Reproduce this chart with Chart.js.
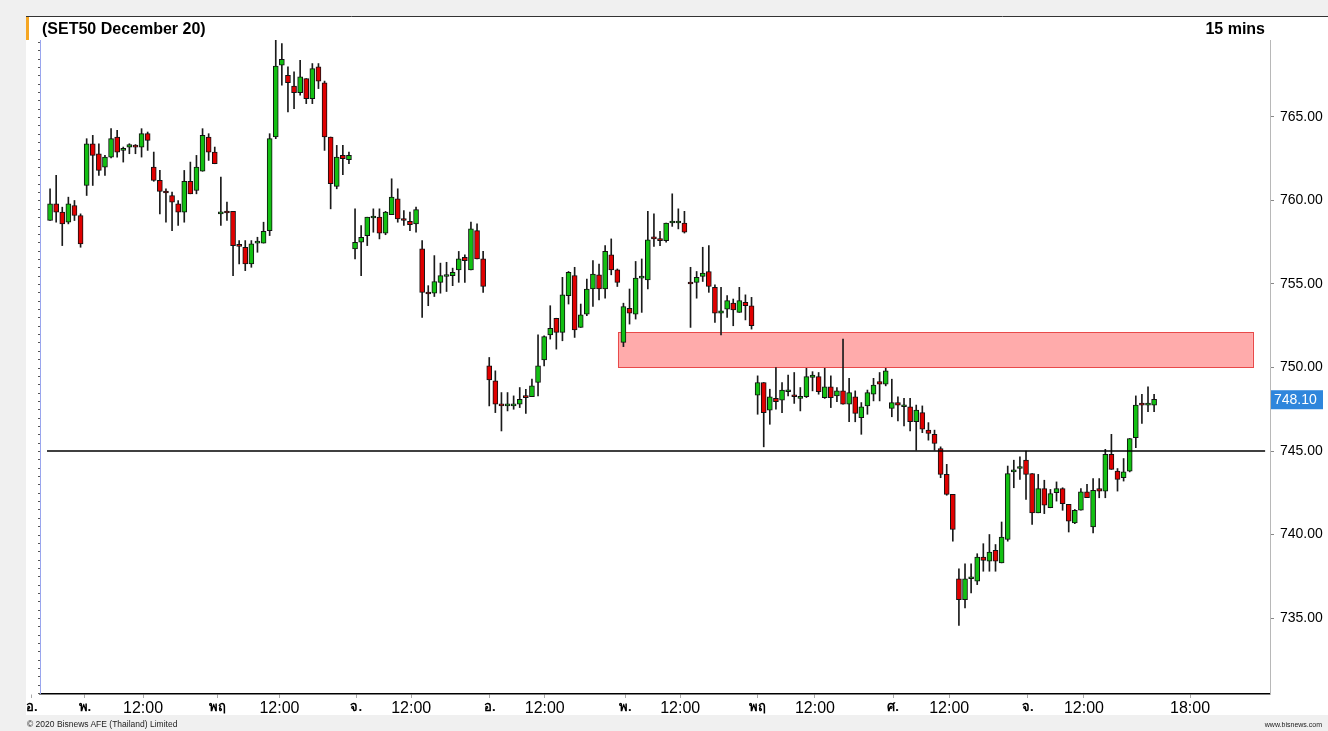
<!DOCTYPE html>
<html>
<head>
<meta charset="utf-8">
<title>SET50 December 20</title>
<script src="https://cdn.jsdelivr.net/npm/chart.js@4"></script>
<style>
  body { margin: 0; background: #f0f0f0; }
  #wrap { position: relative; width: 1328px; height: 731px; }
  .txt { position: absolute; font-family: 'Liberation Sans', Arial, sans-serif; color: #000; white-space: nowrap; }
  #title { left: 42px; top: 20px; font-size: 16px; font-weight: bold; line-height: 18px; }
  #period { right: 63px; top: 20px; font-size: 16px; font-weight: bold; line-height: 18px; }
  #copy { left: 27px; top: 718px; font-size: 8.5px; line-height: 12px; color: #222; }
  #site { right: 6px; top: 719px; font-size: 7px; line-height: 12px; color: #222; }
</style>
</head>
<body>
<div id="wrap">
  <canvas id="myChart"></canvas>
  <div class="txt" id="title">(SET50 December 20)</div>
  <div class="txt" id="period">15 mins</div>
  <div class="txt" id="copy">© 2020 Bisnews AFE (Thailand) Limited</div>
  <div class="txt" id="site">www.bisnews.com</div>
</div>
<script>
// 15 min candles (oldest first)
let opens = [
  758.8, 759.8, 759.3, 758.7, 759.7, 759.1, 760.9, 763.4, 762.8, 762.0,
  762.6, 763.8, 763.0, 763.2, 763.3, 763.2, 764.0, 762.0, 761.2, 760.5,
  760.3, 759.8, 759.3, 761.15, 760.6, 761.75, 763.8, 762.9, 759.2, 759.3,
  759.35, 757.3, 757.2, 756.2, 757.45, 757.45, 758.2, 763.8, 768.1, 767.5,
  766.85, 766.45, 767.3, 766.1, 768.0, 767.05, 763.8, 760.85, 762.7, 762.45,
  757.1, 757.5, 757.9, 758.95, 759.0, 758.05, 759.15, 760.1, 758.85, 758.75,
  758.6, 757.1, 754.45, 754.45, 755.1, 755.45, 755.5, 755.85, 756.6, 755.85,
  758.2, 756.5, 750.1, 749.2, 747.75, 747.7, 747.7, 747.8, 748.25, 748.25,
  749.1, 750.45, 751.95, 752.95, 752.1, 754.3, 755.5, 752.4, 753.2, 754.7,
  755.55, 754.7, 756.75, 755.85, 751.5, 753.55, 753.2, 755.35, 755.25, 757.8,
  757.65, 757.6, 758.65, 758.65, 758.65, 755.05, 755.1, 755.45, 755.75, 754.8,
  753.25, 753.5, 753.85, 753.3, 753.9, 753.7, 748.35, 749.1, 747.45, 748.15,
  748.05, 748.55, 748.35, 748.15, 748.25, 749.4, 749.45, 748.2, 748.85, 748.3,
  748.6, 747.8, 748.25, 747.0, 747.7, 748.4, 749.15, 749.0, 747.55, 747.9,
  747.65, 747.65, 746.75, 747.3, 746.25, 746.0, 745.15, 743.6, 742.4, 737.35,
  736.1, 737.35, 737.2, 738.65, 738.4, 739.05, 738.3, 739.7, 743.75, 743.95,
  744.45, 743.65, 741.3, 742.75, 741.6, 742.5, 742.75, 741.8, 740.7, 741.45,
  742.55, 740.45, 742.75, 742.6, 744.8, 743.8, 743.4, 743.8, 745.8, 747.85,
  747.75, 747.75
];
let highs = [
  760.7, 761.5, 759.6, 760.2, 760.0, 759.2, 763.7, 763.9, 763.4, 762.7,
  764.3, 764.2, 763.2, 763.4, 763.35, 764.3, 764.1, 762.9, 761.8, 760.7,
  760.5, 760.0, 761.8, 762.3, 762.7, 764.3, 764.0, 763.2, 761.4, 759.9,
  759.35, 757.6, 757.6, 757.6, 757.8, 758.7, 764.0, 769.6, 769.4, 768.0,
  767.7, 768.4, 767.3, 768.2, 768.2, 767.15, 763.8, 763.3, 763.3, 762.9,
  759.5, 758.5, 759.0, 759.5, 759.5, 759.35, 761.3, 760.7, 759.4, 759.3,
  759.6, 757.6, 754.9, 756.7, 756.25, 756.3, 755.95, 756.95, 756.75, 758.7,
  758.6, 756.95, 750.6, 749.8, 748.5, 748.5, 748.3, 748.8, 748.7, 749.3,
  751.95, 751.9, 753.7, 752.95, 755.4, 755.75, 756.0, 753.8, 755.3, 756.4,
  756.2, 757.3, 757.7, 755.9, 753.85, 754.7, 756.35, 756.5, 759.35, 759.2,
  758.15, 758.65, 760.4, 759.5, 759.35, 756.0, 755.75, 757.2, 757.3, 754.95,
  754.8, 754.3, 754.1, 754.8, 754.35, 754.2, 749.5, 749.1, 748.7, 750.0,
  749.1, 749.55, 749.7, 748.8, 749.95, 749.75, 749.7, 749.95, 749.5, 748.8,
  751.7, 749.35, 748.6, 747.9, 748.65, 749.35, 749.7, 749.95, 749.3, 748.25,
  748.15, 748.15, 747.75, 747.7, 746.7, 746.25, 745.25, 744.2, 742.4, 737.95,
  738.25, 738.25, 738.85, 739.45, 740.0, 739.4, 740.75, 744.1, 744.45, 744.65,
  745.0, 743.65, 743.6, 743.25, 742.7, 743.15, 742.8, 741.8, 741.5, 742.75,
  743.0, 743.35, 743.35, 745.1, 746.0, 743.95, 744.55, 745.75, 748.3, 748.4,
  748.85, 748.4
];
let lows = [
  758.8, 758.7, 757.3, 758.6, 758.8, 757.2, 760.3, 760.9, 761.5, 761.5,
  762.55, 762.6, 762.3, 762.8, 762.8, 762.6, 763.0, 761.15, 759.2, 758.7,
  758.2, 758.5, 758.7, 760.4, 760.4, 761.75, 762.4, 762.2, 758.5, 758.8,
  755.5, 756.2, 755.8, 756.0, 756.9, 757.45, 757.9, 763.7, 766.9, 765.3,
  765.5, 766.3, 765.8, 765.8, 766.7, 763.0, 759.5, 760.7, 761.55, 762.2,
  756.5, 755.5, 757.3, 758.1, 757.7, 757.95, 759.15, 758.7, 758.5, 758.2,
  758.1, 753.0, 753.7, 754.25, 754.45, 754.55, 754.9, 755.1, 755.1, 755.85,
  756.5, 754.5, 747.7, 747.3, 746.2, 747.4, 747.5, 747.6, 747.25, 748.25,
  748.3, 750.1, 751.7, 751.1, 751.6, 753.8, 751.8, 752.4, 753.1, 753.65,
  754.05, 754.15, 755.55, 754.85, 751.25, 752.6, 752.9, 753.3, 754.7, 757.25,
  757.3, 757.5, 758.45, 758.3, 758.05, 752.4, 754.15, 755.15, 754.5, 752.7,
  751.95, 753.0, 752.5, 753.3, 752.85, 752.3, 747.2, 745.25, 746.6, 747.5,
  747.3, 748.3, 747.85, 747.4, 748.2, 748.6, 748.4, 748.15, 747.6, 747.95,
  747.8, 746.75, 746.75, 746.0, 747.2, 748.0, 748.0, 748.9, 747.05, 746.8,
  746.5, 746.2, 745.05, 746.1, 745.65, 745.05, 743.4, 742.35, 739.6, 734.55,
  735.6, 736.5, 737.0, 737.8, 737.8, 737.8, 738.3, 739.6, 742.8, 743.3,
  742.1, 740.6, 741.3, 741.25, 741.6, 742.0, 741.45, 740.15, 740.65, 741.45,
  742.2, 740.1, 742.2, 742.2, 743.9, 742.6, 743.2, 743.75, 745.2, 746.65,
  747.35, 747.35
];
let closes = [
  759.8, 759.3, 758.6, 759.8, 759.1, 757.4, 763.4, 762.7, 761.8, 762.6,
  763.7, 762.9, 763.0, 763.35, 763.2, 764.0, 763.6, 761.2, 760.55, 760.45,
  759.9, 759.3, 761.15, 760.4, 762.0, 763.9, 762.9, 762.2, 759.3, 759.25,
  757.3, 757.25, 756.2, 757.4, 757.5, 758.15, 763.7, 768.05, 768.45, 767.05,
  766.45, 767.4, 766.1, 767.9, 767.15, 763.8, 761.0, 762.6, 762.5, 762.7,
  757.5, 757.8, 759.0, 758.96, 758.05, 759.3, 760.2, 758.9, 758.8, 758.55,
  759.45, 754.5, 754.4, 755.15, 755.5, 755.45, 755.7, 756.5, 756.4, 758.3,
  756.5, 754.85, 749.25, 747.8, 747.7, 747.75, 747.7, 748.1, 748.2, 748.9,
  750.1, 751.85, 752.35, 752.1, 754.35, 755.7, 752.25, 753.15, 754.7, 755.6,
  754.7, 756.95, 755.85, 755.1, 753.65, 753.25, 755.35, 755.4, 757.65, 757.7,
  757.6, 758.65, 758.7, 758.7, 758.1, 755.0, 755.4, 755.65, 754.85, 753.25,
  753.4, 754.0, 753.45, 754.0, 753.7, 752.5, 749.1, 747.3, 748.25, 747.95,
  748.65, 748.6, 748.25, 748.25, 749.45, 749.55, 748.55, 748.85, 748.2, 748.6,
  747.8, 748.5, 747.25, 747.65, 748.5, 748.95, 749.0, 749.8, 747.9, 747.75,
  747.65, 746.75, 747.45, 746.3, 746.05, 745.45, 743.6, 742.4, 740.3, 736.1,
  737.35, 737.35, 738.65, 738.45, 738.95, 738.4, 739.85, 743.65, 743.75, 743.95,
  743.6, 741.3, 742.75, 741.75, 742.45, 742.75, 741.85, 740.8, 741.45, 742.55,
  742.2, 742.65, 742.6, 744.8, 743.9, 743.3, 743.75, 745.75, 747.75, 747.75,
  747.75, 748.1
];

// x axis labels (position counted in candles from the first one)
let tickPos = [-3.0, 5.7, 15.25, 27.4, 37.6, 50.2, 59.2, 72.1, 81.1, 94.3, 103.3, 115.9, 125.4, 138.2, 147.4, 160.3, 169.5, 186.9];
let tickText = ['อ.', 'พ.', '12:00', 'พฤ', '12:00', 'จ.', '12:00', 'อ.', '12:00', 'พ.', '12:00', 'พฤ', '12:00', 'ศ.', '12:00', 'จ.', '12:00', '18:00'];
let priceTicks = [735, 740, 745, 750, 755, 760, 765];

// support line and resistance zone
let supportLevel = 745;
let supportFrom = -0.5;
let supportTo = 199.2;
let zoneLow = 750;
let zoneHigh = 752.1;
let zoneFrom = 93.1;
let zoneTo = 197.2;

let wickData = [];
let bodyData = [];
let bodyColors = [];
for (let i = 0; i < opens.length; i++) {
  wickData.push({ x: i, y: [lows[i], highs[i]] });
  bodyData.push({ x: i, y: [opens[i], closes[i]] });
  bodyColors.push(closes[i] >= opens[i] ? '#13c013' : '#e00000');
}

const framePlugin = {
  id: 'frame',
  beforeDraw(chart) {
    let ctx = chart.ctx;
    ctx.save();
    ctx.fillStyle = '#f0f0f0';
    ctx.fillRect(0, 0, chart.width, chart.height);
    ctx.fillStyle = '#ffffff';
    ctx.fillRect(26, 16, chart.width - 26, 699);
    ctx.strokeStyle = '#333';
    ctx.lineWidth = 1;
    ctx.beginPath();
    ctx.moveTo(26, 16.5);
    ctx.lineTo(chart.width, 16.5);
    ctx.stroke();
    ctx.fillStyle = '#f5a623';
    ctx.fillRect(26, 17, 3, 23);
    ctx.restore();
  },
  beforeDatasetsDraw(chart) {
    // resistance zone behind the candles
    let ctx = chart.ctx;
    let xs = chart.scales.x;
    let ys = chart.scales.y;
    let x1 = xs.getPixelForValue(zoneFrom);
    let x2 = xs.getPixelForValue(zoneTo);
    let y1 = ys.getPixelForValue(zoneHigh);
    let y2 = ys.getPixelForValue(zoneLow);
    ctx.save();
    ctx.fillStyle = '#ffabab';
    ctx.fillRect(x1, y1, x2 - x1, y2 - y1);
    ctx.strokeStyle = '#e84a4a';
    ctx.lineWidth = 1;
    ctx.strokeRect(Math.round(x1) + 0.5, Math.round(y1) + 0.5, Math.round(x2 - x1), Math.round(y2 - y1));
    ctx.restore();
  },
  afterDraw(chart) {
    let ctx = chart.ctx;
    let area = chart.chartArea;
    let ys = chart.scales.y;
    ctx.save();
    // blue left rule with small half point marks
    ctx.strokeStyle = '#9aa6ee';
    ctx.lineWidth = 1;
    ctx.beginPath();
    ctx.moveTo(area.left + 0.5, area.top);
    ctx.lineTo(area.left + 0.5, area.bottom);
    ctx.stroke();
    ctx.strokeStyle = '#555';
    ctx.beginPath();
    for (let p = Math.ceil(ys.min * 2) / 2; p <= ys.max; p += 0.5) {
      let y = Math.round(ys.getPixelForValue(p)) + 0.5;
      ctx.moveTo(area.left - 2, y);
      ctx.lineTo(area.left, y);
    }
    ctx.stroke();
    // last price box on the price axis
    let last = closes[closes.length - 1];
    let y = ys.getPixelForValue(last);
    ctx.fillStyle = '#2f86dc';
    ctx.fillRect(area.right + 1, y - 9, 52, 19);
    ctx.fillStyle = '#ffffff';
    ctx.font = '14px "Liberation Sans", Arial, sans-serif';
    ctx.textBaseline = 'middle';
    ctx.fillText(last.toFixed(2), area.right + 4, y + 1);
    ctx.restore();
  }
};

let canvasChart = document.getElementById('myChart');
let chart = new Chart(canvasChart, {
  data: {
    datasets: [
      {
        type: 'line',
        data: [{ x: supportFrom, y: supportLevel }, { x: supportTo, y: supportLevel }],
        borderColor: '#000',
        borderWidth: 1.5,
        pointRadius: 0,
        order: 0
      },
      {
        type: 'bar',
        data: bodyData,
        backgroundColor: bodyColors,
        borderColor: '#111',
        borderWidth: 1,
        borderSkipped: false,
        barThickness: 5,
        minBarLength: 2,
        grouped: false,
        order: 1
      },
      {
        type: 'bar',
        data: wickData,
        backgroundColor: '#1a1a1a',
        barThickness: 1,
        grouped: false,
        order: 2
      }
    ]
  },
  options: {
    responsive: true,
    maintainAspectRatio: false,
    animation: false,
    layout: { padding: { left: 40, top: 40, right: 0, bottom: 0 } },
    plugins: { legend: { display: false }, tooltip: { enabled: false } },
    scales: {
      x: {
        type: 'linear',
        offset: false,
        min: -1.65,
        max: 200,
        afterBuildTicks: (scale) => {
          scale.ticks = tickPos.map(v => ({ value: v }));
        },
        afterFit: (scale) => { scale.height = 37; },
        ticks: {
          autoSkip: false,
          maxRotation: 0,
          padding: 1,
          color: '#000',
          callback: (value, index) => tickText[index],
          font: (ctx) => {
            let t = tickText[ctx.index] || '';
            if (t.indexOf(':') >= 0) {
              return { family: '"Liberation Sans", Arial, sans-serif', size: 16 };
            }
            return { family: 'Tahoma, "Noto Sans", "DejaVu Sans", sans-serif', size: 13, weight: 'bold' };
          }
        },
        grid: { offset: false, drawOnChartArea: false, tickLength: 4, color: '#aaa' },
        border: { color: '#000', width: 1.5 }
      },
      y: {
        type: 'linear',
        position: 'right',
        min: 730.45,
        max: 769.61,
        afterBuildTicks: (scale) => {
          scale.ticks = priceTicks.map(v => ({ value: v }));
        },
        afterFit: (scale) => { scale.width = 58; },
        ticks: {
          padding: 6,
          color: '#000',
          font: { family: '"Liberation Sans", Arial, sans-serif', size: 14 },
          callback: (value) => value.toFixed(2)
        },
        grid: { drawOnChartArea: false, tickLength: 4, color: '#888' },
        border: { color: '#b8b8b8', width: 1 }
      }
    }
  },
  plugins: [framePlugin]
});
</script>
</body>
</html>
